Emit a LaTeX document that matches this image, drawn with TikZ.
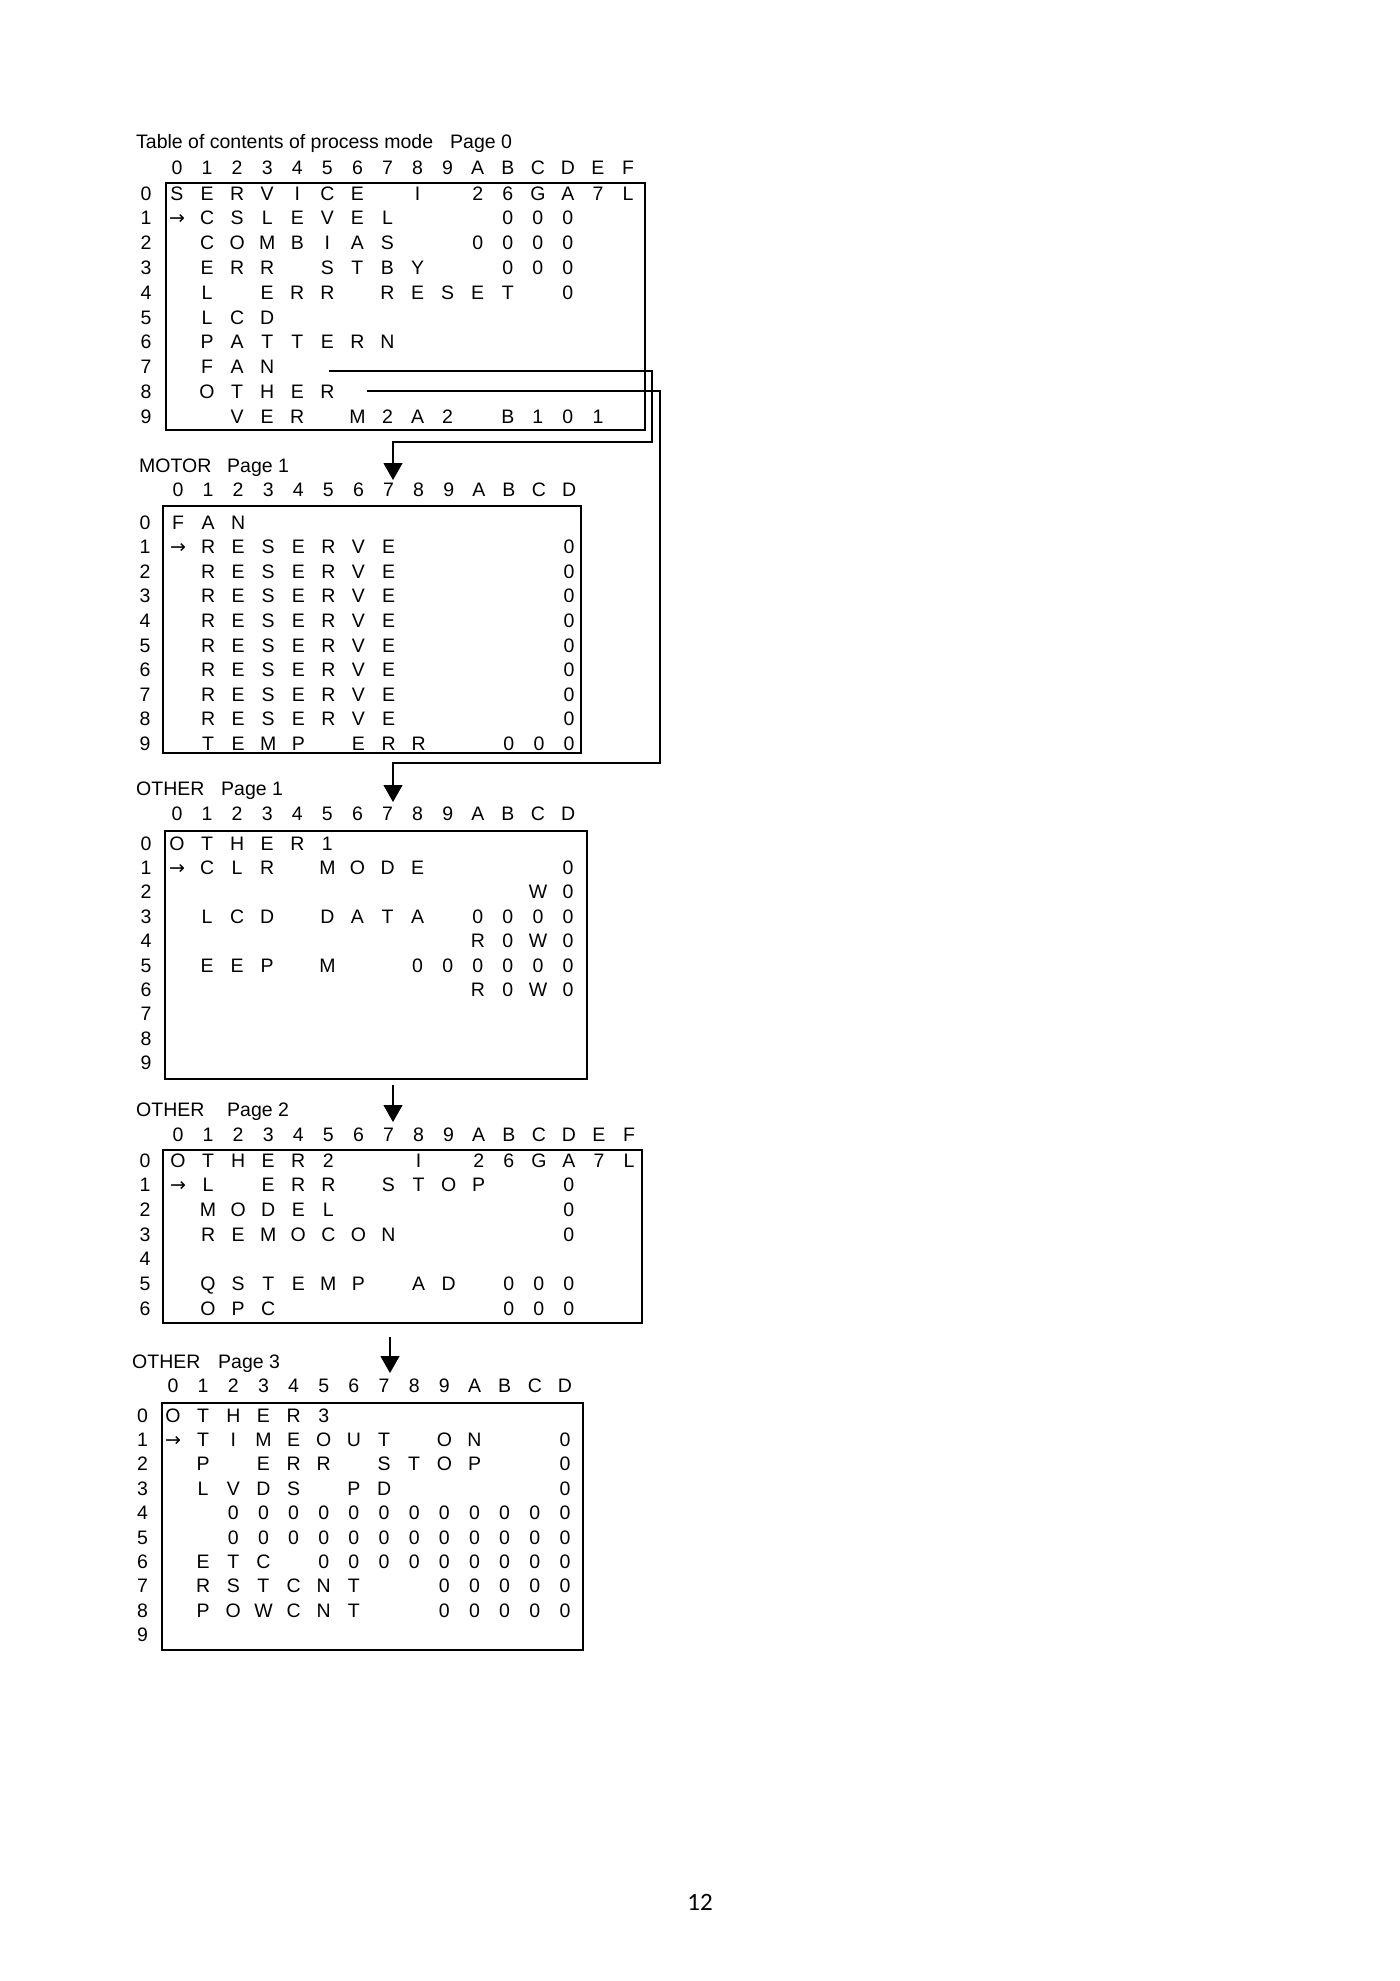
\documentclass[tikz,border=0pt]{standalone}
\usepackage{fontspec}
\setmainfont{Liberation Sans}
\newfontfamily\arrowfont{DejaVu Sans}
\newfontfamily\pagenumfont{Carlito}
\usetikzlibrary{arrows.meta}
\newcommand\myrarr{{\arrowfont\fontsize{19}{19}\selectfont →}}
\newcommand\tabsize{\fontsize{19.5}{20}\selectfont}
\tikzset{
  cell/.style={font=\tabsize, inner sep=0pt, text height=14pt, text depth=0pt, anchor=center},
  ttl/.style={font=\tabsize, inner sep=0pt, anchor=base west},
  tbox/.style={draw, line width=1.6pt, inner sep=0pt, anchor=north west},
  conn/.style={line width=1.1pt},
  arr/.style={-{Triangle[width=19pt,length=17pt]}}
}
\newcommand\trow[3]{\foreach \ch [count=\ci from 0] in {#3}{\ifx\ch\empty\else\node[cell] (#1-#2-\ci) at ({\bx+\ci*\bdx},{\by+#2*\bdy}) {\ch};\fi}}
\newcommand\thead[2]{\foreach \hh [count=\ci from 0] in {#2}{\node[cell] (#1-h-\ci) at ({\bx+\ci*\bdx},\hy) {\hh};}}
\newcommand\tlab[2]{\foreach \rr in {0,...,#2}{\node[cell] (#1-l-\rr) at (\lx,{\by+\rr*\bdy}) {\rr};}}
\begin{document}
\begin{tikzpicture}[x=1pt,y=-1pt]
\fill[white] (0,0) rectangle (1400,1981);
\useasboundingbox (0,0) rectangle (1400,1981);

% ---------- Box 1 ----------
\node[ttl] (t1) at (136,148) {Table of contents of process mode};
\node[ttl] (t1p) at (450,148) {Page 0};
\def\bx{177}\def\bdx{30.07}\def\hy{167}\def\lx{146}\def\by{193}\def\bdy{24.8}
\node[tbox, minimum width=479pt, minimum height=247pt] (box1) at (165,182) {};
\thead{b1}{0,1,2,3,4,5,6,7,8,9,A,B,C,D,E,F}
\tlab{b1}{9}
\trow{b1}{0}{S,E,R,V,I,C,E,,I,,2,6,G,A,7,L}
\trow{b1}{1}{\myrarr,C,S,L,E,V,E,L,,,,0,0,0}
\trow{b1}{2}{,C,O,M,B,I,A,S,,,0,0,0,0}
\trow{b1}{3}{,E,R,R,,S,T,B,Y,,,0,0,0}
\trow{b1}{4}{,L,,E,R,R,,R,E,S,E,T,,0}
\trow{b1}{5}{,L,C,D}
\trow{b1}{6}{,P,A,T,T,E,R,N}
\trow{b1}{7}{,F,A,N}
\trow{b1}{8}{,O,T,H,E,R}
\trow{b1}{9}{,,V,E,R,,M,2,A,2,,B,1,0,1}

% ---------- Box 2 : MOTOR ----------
\node[ttl] (t2) at (139,472) {MOTOR};
\node[ttl] (t2p) at (227,472) {Page 1};
\def\bx{178}\def\bdx{30.08}\def\hy{489}\def\lx{145}\def\by{522}\def\bdy{24.6}
\node[tbox, minimum width=418pt, minimum height=247pt] (box2) at (162,505) {};
\thead{b2}{0,1,2,3,4,5,6,7,8,9,A,B,C,D}
\tlab{b2}{9}
\trow{b2}{0}{F,A,N}
\trow{b2}{1}{\myrarr,R,E,S,E,R,V,E,,,,,,0}
\foreach \rw in {2,...,8}{\trow{b2}{\rw}{,R,E,S,E,R,V,E,,,,,,0}}
\trow{b2}{9}{,T,E,M,P,,E,R,R,,,0,0,0}

% ---------- Box 3 : OTHER Page 1 ----------
\node[ttl] (t3) at (136,795) {OTHER};
\node[ttl] (t3p) at (221,795) {Page 1};
\def\bx{177}\def\bdx{30.08}\def\hy{813}\def\lx{146}\def\by{843}\def\bdy{24.4}
\node[tbox, minimum width=422pt, minimum height=248pt] (box3) at (164,830) {};
\thead{b3}{0,1,2,3,4,5,6,7,8,9,A,B,C,D}
\tlab{b3}{9}
\trow{b3}{0}{O,T,H,E,R,1}
\trow{b3}{1}{\myrarr,C,L,R,,M,O,D,E,,,,,0}
\trow{b3}{2}{,,,,,,,,,,,,W,0}
\trow{b3}{3}{,L,C,D,,D,A,T,A,,0,0,0,0}
\trow{b3}{4}{,,,,,,,,,,R,0,W,0}
\trow{b3}{5}{,E,E,P,,M,,,0,0,0,0,0,0}
\trow{b3}{6}{,,,,,,,,,,R,0,W,0}

% ---------- Box 4 : OTHER Page 2 ----------
\node[ttl] (t4) at (136,1116) {OTHER};
\node[ttl] (t4p) at (227,1116) {Page 2};
\def\bx{178}\def\bdx{30.07}\def\hy{1134}\def\lx{145}\def\by{1160}\def\bdy{24.7}
\node[tbox, minimum width=479pt, minimum height=173pt] (box4) at (162,1149) {};
\thead{b4}{0,1,2,3,4,5,6,7,8,9,A,B,C,D,E,F}
\tlab{b4}{6}
\trow{b4}{0}{O,T,H,E,R,2,,,I,,2,6,G,A,7,L}
\trow{b4}{1}{\myrarr,L,,E,R,R,,S,T,O,P,,,0}
\trow{b4}{2}{,M,O,D,E,L,,,,,,,,0}
\trow{b4}{3}{,R,E,M,O,C,O,N,,,,,,0}
\trow{b4}{5}{,Q,S,T,E,M,P,,A,D,,0,0,0}
\trow{b4}{6}{,O,P,C,,,,,,,,0,0,0}

% ---------- Box 5 : OTHER Page 3 ----------
\node[ttl] (t5) at (132,1368) {OTHER};
\node[ttl] (t5p) at (218,1368) {Page 3};
\def\bx{173}\def\bdx{30.15}\def\hy{1385}\def\lx{142.5}\def\by{1415}\def\bdy{24.4}
\node[tbox, minimum width=421pt, minimum height=247pt] (box5) at (161,1402) {};
\thead{b5}{0,1,2,3,4,5,6,7,8,9,A,B,C,D}
\tlab{b5}{9}
\trow{b5}{0}{O,T,H,E,R,3}
\trow{b5}{1}{\myrarr,T,I,M,E,O,U,T,,O,N,,,0}
\trow{b5}{2}{,P,,E,R,R,,S,T,O,P,,,0}
\trow{b5}{3}{,L,V,D,S,,P,D,,,,,,0}
\trow{b5}{4}{,,0,0,0,0,0,0,0,0,0,0,0,0}
\trow{b5}{5}{,,0,0,0,0,0,0,0,0,0,0,0,0}
\trow{b5}{6}{,E,T,C,,0,0,0,0,0,0,0,0,0}
\trow{b5}{7}{,R,S,T,C,N,T,,,0,0,0,0,0}
\trow{b5}{8}{,P,O,W,C,N,T,,,0,0,0,0,0}

% ---------- connectors ----------
\coordinate (fanS) at (329,371);
\coordinate (fanR) at (652,371);
\coordinate (fanD) at (652,442);
\coordinate (fanL) at (393,442);
\coordinate (fanT) at (393,480);
\draw[conn,arr] (fanS) -- (fanR) -- (fanD) -- (fanL) -- (fanT);

\coordinate (othS) at (367,391);
\coordinate (othR) at (660,391);
\coordinate (othD) at (660,763);
\coordinate (othL) at (393,763);
\coordinate (othT) at (393,802);
\draw[conn,arr] (othS) -- (othR) -- (othD) -- (othL) -- (othT);

\coordinate (p2S) at (393,1085);
\coordinate (p2T) at (393,1122);
\draw[conn,arr] (p2S) -- (p2T);

\coordinate (p3S) at (390,1337);
\coordinate (p3T) at (390,1373);
\draw[conn,arr] (p3S) -- (p3T);

% ---------- page number ----------
\node[font=\pagenumfont\fontsize{25}{25}\selectfont, inner sep=0pt] (pnum) at (700,1902) {12};
\end{tikzpicture}
\end{document}
